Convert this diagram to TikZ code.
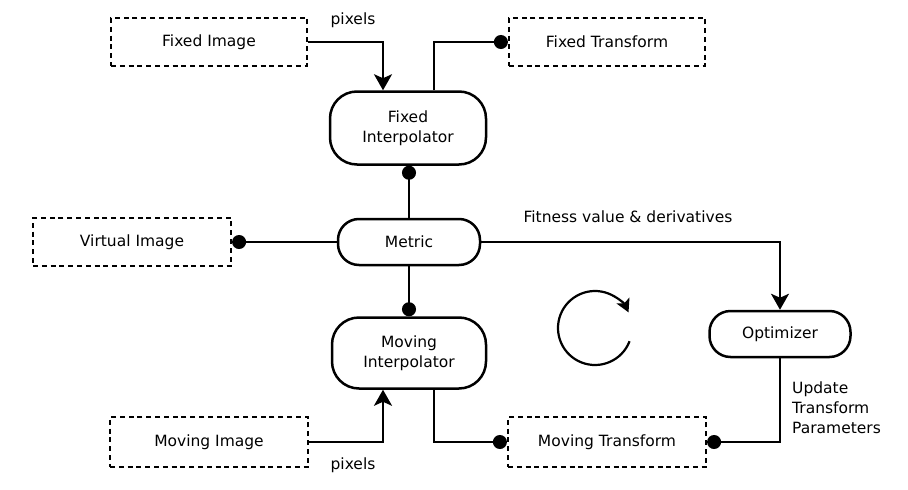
\documentclass[tikz,border=0pt]{standalone}
\usepackage{fontspec}
\setmainfont{DejaVu Sans}
\usetikzlibrary{arrows.meta}
\begin{document}
\begin{tikzpicture}[x=1pt,y=-1pt,
  font=\fontsize{15.5}{20}\selectfont,
  dbox/.style={draw,line width=2.2pt,dash pattern=on 5pt off 3.8pt,inner sep=0pt,align=center},
  rbox/.style={draw,line width=2.5pt,rounded corners=27pt,inner sep=0pt,align=center},
  conn/.style={line width=2.2pt},
  arr/.style={conn,-{Stealth[length=16pt,width=18pt,inset=4pt]}},
  carr/.style={conn,-{Stealth[length=13pt,width=14pt,inset=3pt]}},
  dot/.style={conn,-{Circle[length=14pt,width=14pt]}},
  lbl/.style={inner sep=0pt}]
\useasboundingbox (0,0) rectangle (908,490);
\node[dbox,minimum width=196,minimum height=48] (fimg) at (209,42) {Fixed Image};
\node[dbox,minimum width=196,minimum height=48] (ftr) at (607,42) {Fixed Transform};
\node[dbox,minimum width=198,minimum height=48] (vimg) at (132,242) {Virtual Image};
\node[dbox,minimum width=198,minimum height=50] (mimg) at (209,442) {Moving Image};
\node[dbox,minimum width=198,minimum height=50] (mtr) at (607,442) {Moving Transform};
\node[rbox,minimum width=156,minimum height=73] (fint) at (408,128) {Fixed\\Interpolator};
\node[rbox,minimum width=142,minimum height=46,rounded corners=21pt] (metric) at (409,242) {Metric};
\node[rbox,minimum width=154,minimum height=71] (mint) at (409,353) {Moving\\Interpolator};
\node[rbox,minimum width=141,minimum height=46,rounded corners=21pt] (opt) at (780,334) {Optimizer};
\node[lbl] (pix1) at (353,20) {pixels};
\node[lbl] (pix2) at (353,465) {pixels};
\node[lbl] (fit) at (628,217) {Fitness value \& derivatives};
\node[lbl,anchor=west,align=left] (upd) at (792,408) {Update\\Transform\\Parameters};
\draw[arr] (fimg.east) -| ([xshift=-25]fint.north);
\draw[dot] ([xshift=26]fint.north) |- (ftr.west);
\draw[dot] (metric.north) -- (metric.north |- fint.south);
\draw[dot] (metric.west) -- (vimg.east);
\draw[dot] (metric.south) -- (mint.north);
\draw[arr] (metric.east) -| (opt.north);
\draw[arr] (mimg.east) -| ([xshift=-26]mint.south);
\draw[dot] ([xshift=25]mint.south) |- (mtr.west);
\draw[dot] (opt.south) |- (mtr.east);
\coordinate (cyc) at (595,328);
\draw[carr] ([shift={(21:37)}]cyc) arc[start angle=21,end angle=335,radius=37];
\end{tikzpicture}
\end{document}
